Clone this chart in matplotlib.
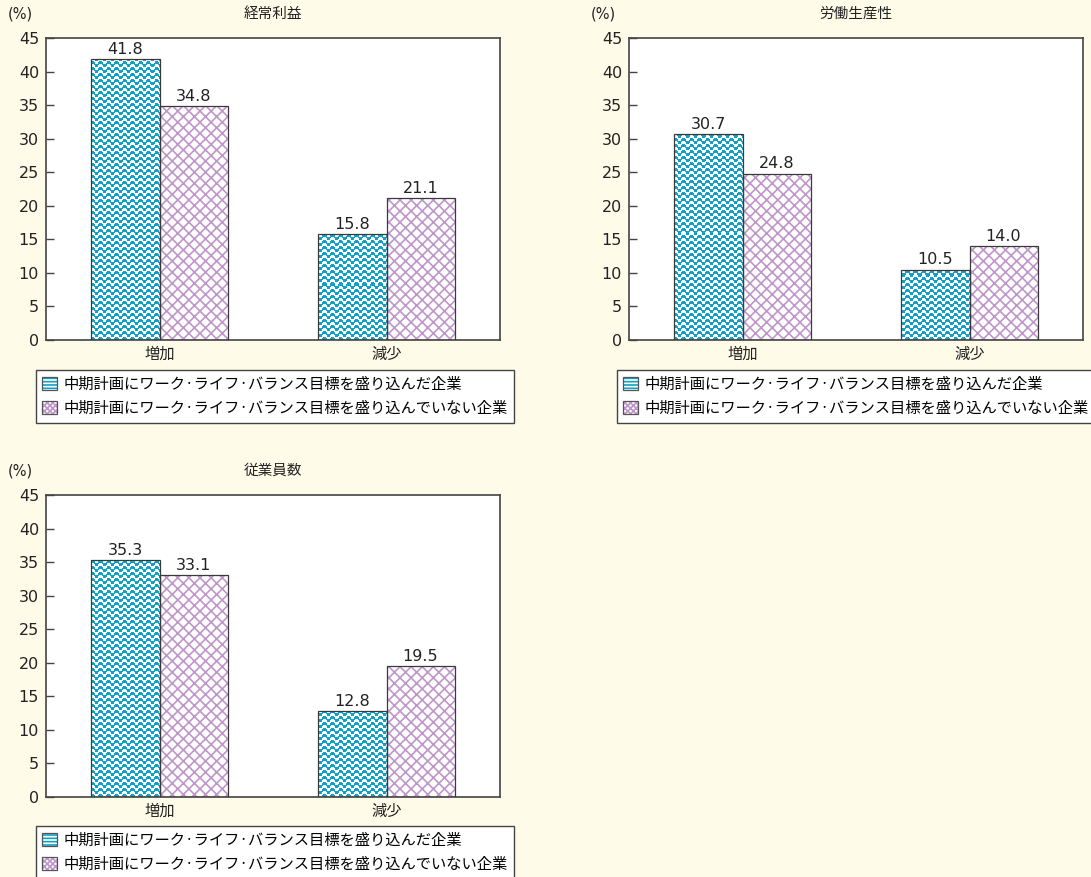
import matplotlib.pyplot as plt
import numpy as np
from matplotlib.patches import Rectangle
from matplotlib.legend_handler import HandlerBase

plt.rcParams['font.family'] = ['DejaVu Sans', 'Noto Sans CJK JP']
plt.rcParams['hatch.linewidth'] = 1.2

categories = ['増加', '減少']
series_names = ['中期計画にワーク·ライフ·バランス目標を盛り込んだ企業',
                '中期計画にワーク·ライフ·バランス目標を盛り込んでいない企業']

titles = ['経常利益', '労働生産性', '従業員数']
with_goal = [[41.8, 15.8], [30.7, 10.5], [35.3, 12.8]]
without_goal = [[34.8, 21.1], [24.8, 14.0], [33.1, 19.5]]
yticks = [0, 5, 10, 15, 20, 25, 30, 35, 40, 45]

BG = '#fffbe9'
TEAL = '#12a0c6'
PURPLE = '#bf96c9'
EDGE = '#3a3a3a'
CJK = ['Noto Sans CJK JP', 'DejaVu Sans']

W, H = 1091, 877
fig = plt.figure(figsize=(W / 100, H / 100), dpi=100, facecolor=BG)

# axes boxes in pixels: left, top, right, bottom
boxes = [(46, 38, 500, 340), (629, 38, 1083, 340), (46, 495, 500, 797)]
legend_boxes = [(36, 370), (617, 370), (36, 826)]


def wave_texture(w, h):
    # teal wavy stripes on white, one array pixel per screen pixel
    cols, rows = np.meshgrid(np.arange(w), np.arange(h))
    val = np.mod(rows - 1.6 * np.sin(2 * np.pi * cols / 8.0), 6.0)
    img = np.ones((h, w, 3))
    teal = np.array([0x12, 0xa0, 0xc6]) / 255.0
    img[val < 3.0] = teal
    return img


class SwatchHandler(HandlerBase):
    def __init__(self, color, hatch):
        super().__init__()
        self.color = color
        self.hatch = hatch

    def create_artists(self, legend, orig_handle, xdescent, ydescent,
                       width, height, fontsize, trans):
        fill = Rectangle((-xdescent, -ydescent), width, height,
                         facecolor='white', edgecolor=self.color, lw=0,
                         hatch=self.hatch, transform=trans)
        box = Rectangle((-xdescent, -ydescent), width, height,
                        facecolor='none', edgecolor='#555', lw=0.9,
                        transform=trans)
        return [fill, box]


width = 0.3
x = np.arange(len(categories))

for i, (l, t, r, b) in enumerate(boxes):
    ax = fig.add_axes([l / W, 1 - b / H, (r - l) / W, (b - t) / H])
    ax.set_facecolor('white')
    ax.set_xlim(-0.5, 1.5)
    ax.set_ylim(0, 45)

    bars1 = ax.bar(x - width / 2, with_goal[i], width, facecolor='none',
                   edgecolor=EDGE, linewidth=0.9, zorder=3)
    bars2 = ax.bar(x + width / 2, without_goal[i], width, facecolor='white',
                   edgecolor=PURPLE, hatch='xxx', linewidth=0, zorder=2)
    ax.bar(x + width / 2, without_goal[i], width, facecolor='none',
           edgecolor=EDGE, linewidth=0.9, zorder=3)

    tex = wave_texture(r - l, b - t)
    for bar in bars1:
        im = ax.imshow(tex, extent=(-0.5, 1.5, 0, 45), aspect='auto',
                       interpolation='nearest', zorder=2)
        im.set_clip_path(bar)

    for bars, vals in ((bars1, with_goal[i]), (bars2, without_goal[i])):
        for bar, v in zip(bars, vals):
            ax.annotate(f'{v:.1f}', (bar.get_x() + bar.get_width() / 2, v),
                        xytext=(0, 1.5), textcoords='offset points',
                        ha='center', va='bottom', fontsize=11.5, color='#222')

    ax.set_xlim(-0.5, 1.5)
    ax.set_ylim(0, 45)
    ax.set_yticks(yticks)
    ax.set_xticks(x)
    ax.set_xticklabels(categories, fontsize=11, family=CJK)
    ax.tick_params(axis='y', direction='in', length=6, width=1, color='#444',
                   labelsize=11.5, pad=5, labelcolor='#222')
    ax.tick_params(axis='x', length=0, pad=4, labelcolor='#222')
    for s in ax.spines.values():
        s.set_color('#444')
        s.set_linewidth(1.2)

    ax.text(0.5, 1.0 + 24 / (b - t), titles[i], transform=ax.transAxes,
            ha='center', va='center', fontsize=10.5, color='#222', family=CJK)
    ax.text(-26 / (r - l), 1.0 + 24 / (b - t), '(%)', transform=ax.transAxes,
            ha='center', va='center', fontsize=10.5, color='#222')

    h1 = Rectangle((0, 0), 1, 1)
    h2 = Rectangle((0, 0), 1, 1)
    lx, ly = legend_boxes[i]
    leg = fig.legend([h1, h2], series_names, loc='upper left',
                     bbox_to_anchor=(lx / W, 1 - ly / H),
                     handler_map={h1: SwatchHandler(TEAL, '-----'),
                                  h2: SwatchHandler(PURPLE, 'xxxxxx')},
                     prop={'family': CJK, 'size': 11},
                     handlelength=0.95, handleheight=0.95,
                     handletextpad=0.45, borderpad=0.4, labelspacing=0.45,
                     borderaxespad=0, fancybox=False, framealpha=1,
                     edgecolor='#444', facecolor='white')
    leg.get_frame().set_linewidth(1.0)

fig.savefig('out.png', dpi=100, facecolor=BG)
